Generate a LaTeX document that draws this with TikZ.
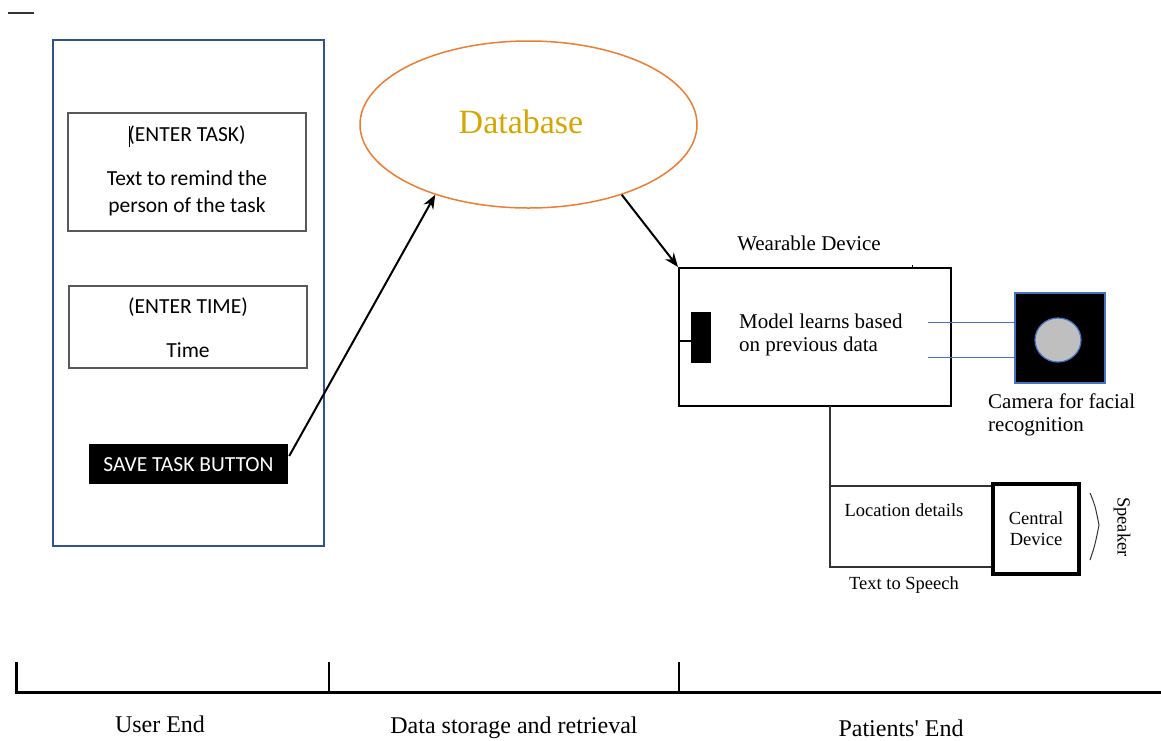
\documentclass[tikz,border=0pt]{standalone}
\usepackage{fontspec}
\setmainfont{Liberation Serif}
\newfontfamily\calfont{Carlito}
\usetikzlibrary{shapes.geometric,arrows.meta,calc}
\definecolor{frameblue}{RGB}{47,82,143}
\definecolor{lineblue}{RGB}{68,114,196}
\definecolor{dborange}{RGB}{237,125,49}
\definecolor{dbgold}{RGB}{214,166,0}
\definecolor{boxgray}{RGB}{89,89,89}
\tikzset{
  sans/.style={font=\calfont\fontsize{21.5}{25}\selectfont, inner sep=0pt},
  serif/.style={font=\fontsize{21}{23}\selectfont, inner sep=0pt},
  small/.style={font=\fontsize{18.5}{21}\selectfont, inner sep=0pt},
  bottomlbl/.style={font=\fontsize{24}{26}\selectfont, inner sep=0pt},
  graybox/.style={draw=boxgray, line width=1.2pt, rectangle, inner sep=0pt},
  arr/.style={line width=2pt, -{Stealth[length=14pt,width=11pt]}},
  thin/.style={line width=1.2pt, draw=black!80},
}
\begin{document}
\begin{tikzpicture}[x=1pt,y=-1pt]
\useasboundingbox (0,0) rectangle (1161,740);
% top-left mark
\coordinate (m1) at (8,13);
\coordinate (m2) at (34,13);
\draw[line width=1.5pt, black!80] (m1) -- (m2);
% user end frame
\node[draw=frameblue, line width=2pt, rectangle, minimum width=271pt, minimum height=506pt, inner sep=0pt] (frame) at (188.5,293) {};
\node[graybox, minimum width=238pt, minimum height=118pt] (taskbox) at (187,172) {};
\node[sans] (tasktitle) at (187,135) {(ENTER TASK)};
\coordinate (cur1) at (129,126);
\coordinate (cur2) at (129,147);
\draw[line width=0.8pt] (cur1) -- (cur2);
\node[sans, align=center, font=\calfont\fontsize{21.5}{27}\selectfont] (tasktext) at (187,193) {Text to remind the\\person of the task};
\node[graybox, minimum width=238pt, minimum height=82pt] (timebox) at (188,327) {};
\node[sans] (timetitle) at (188,307) {(ENTER TIME)};
\node[sans] (timetext) at (188,350) {Time};
\node[rectangle, fill=black, minimum width=199pt, minimum height=40pt, inner sep=0pt] (btn) at (188.5,464) {};
\node[sans, text=white] (btntext) at (188.5,465) {SAVE TASK BUTTON};
% database
\node[ellipse, draw=dborange, line width=1.5pt, minimum width=337pt, minimum height=167pt, inner sep=0pt] (db) at (528.5,124.5) {};
\node[font=\fontsize{34}{36}\selectfont, text=dbgold, inner sep=0pt] (dbtext) at (521,122) {Database};
% wearable device
\node[draw=black, line width=2pt, rectangle, minimum width=272pt, minimum height=138pt, inner sep=0pt] (wb) at (815,337) {};
\node[serif] (wbtitle) at (809,243) {Wearable Device};
\coordinate (tick1) at (912,265);
\coordinate (tick2) at (912,268);
\draw[line width=0.8pt] (tick1) -- (tick2);
\node[rectangle, fill=black, minimum width=20pt, minimum height=51pt, inner sep=0pt] (chip) at (701,337.5) {};
\coordinate (chipl) at (679,341);
\draw[line width=1.2pt] (chipl) -- (chipl -| chip.west);
\node[serif, align=left, anchor=west] (model) at (739,334.5) {Model learns based\\on previous data};
% camera
\node[rectangle, fill=black, draw=lineblue, line width=1.5pt, minimum width=90pt, minimum height=90pt, inner sep=0pt] (cam) at (1060,338) {};
\node[ellipse, fill=black!25, draw=lineblue, line width=1.2pt, minimum width=46pt, minimum height=44pt, inner sep=0pt] (lens) at (1058,340) {};
\coordinate (b1) at (928,322);
\coordinate (b2) at (928,357);
\draw[lineblue, line width=1pt] (b1) -- (b1 -| cam.west);
\draw[lineblue, line width=1pt] (b2) -- (b2 -| cam.west);
\node[serif, align=left, anchor=north west] (camtext) at (988,394) {Camera for facial\\recognition};
% central device
\node[draw=black, line width=4pt, rectangle, minimum width=86pt, minimum height=90pt, inner sep=0pt] (cd) at (1036,529) {};
\node[small, align=center] (cdtext) at (1036,529) {Central\\Device};
\coordinate (j) at (830,406);
\coordinate (k1) at (830,486);
\coordinate (k2) at (830,567);
\draw[thin] (j) -- (k2) -- (k2 -| cd.west);
\draw[thin] (k1) -- (k1 -| cd.west);
\node[small] (loc) at (904,510) {Location details};
\node[small] (tts) at (904,585) {Text to Speech};
\coordinate (s1) at (1090,493);
\coordinate (s2) at (1099,525);
\coordinate (s3) at (1090,560);
\draw[line width=1pt, black!80] (s1) .. controls (1095,505) .. (s2) .. controls (1095,545) .. (s3);
\node[small, rotate=-90] (spk) at (1122,527) {Speaker};
% arrows
\draw[arr] ($(btn.east)+(1,-8)$) -- (db.217);
\draw[arr] (db.323) -- (wb.north west);
% bottom timeline
\coordinate (t0) at (16,662);
\coordinate (t0b) at (16,692);
\coordinate (tend) at (1161,692);
\coordinate (t1) at (329,662);
\coordinate (t1b) at (329,692);
\coordinate (t2) at (679,662);
\coordinate (t2b) at (679,692);
\draw[line width=3pt] (t0) -- (t0b) -- (tend);
\draw[line width=2pt] (t1) -- (t1b);
\draw[line width=2pt] (t2) -- (t2b);
\node[bottomlbl] (l1) at (160,724) {User End};
\node[bottomlbl] (l2) at (514,728) {Data storage and retrieval};
\node[bottomlbl] (l3) at (901,728) {Patients\textquotesingle{} End};
\end{tikzpicture}
\end{document}
